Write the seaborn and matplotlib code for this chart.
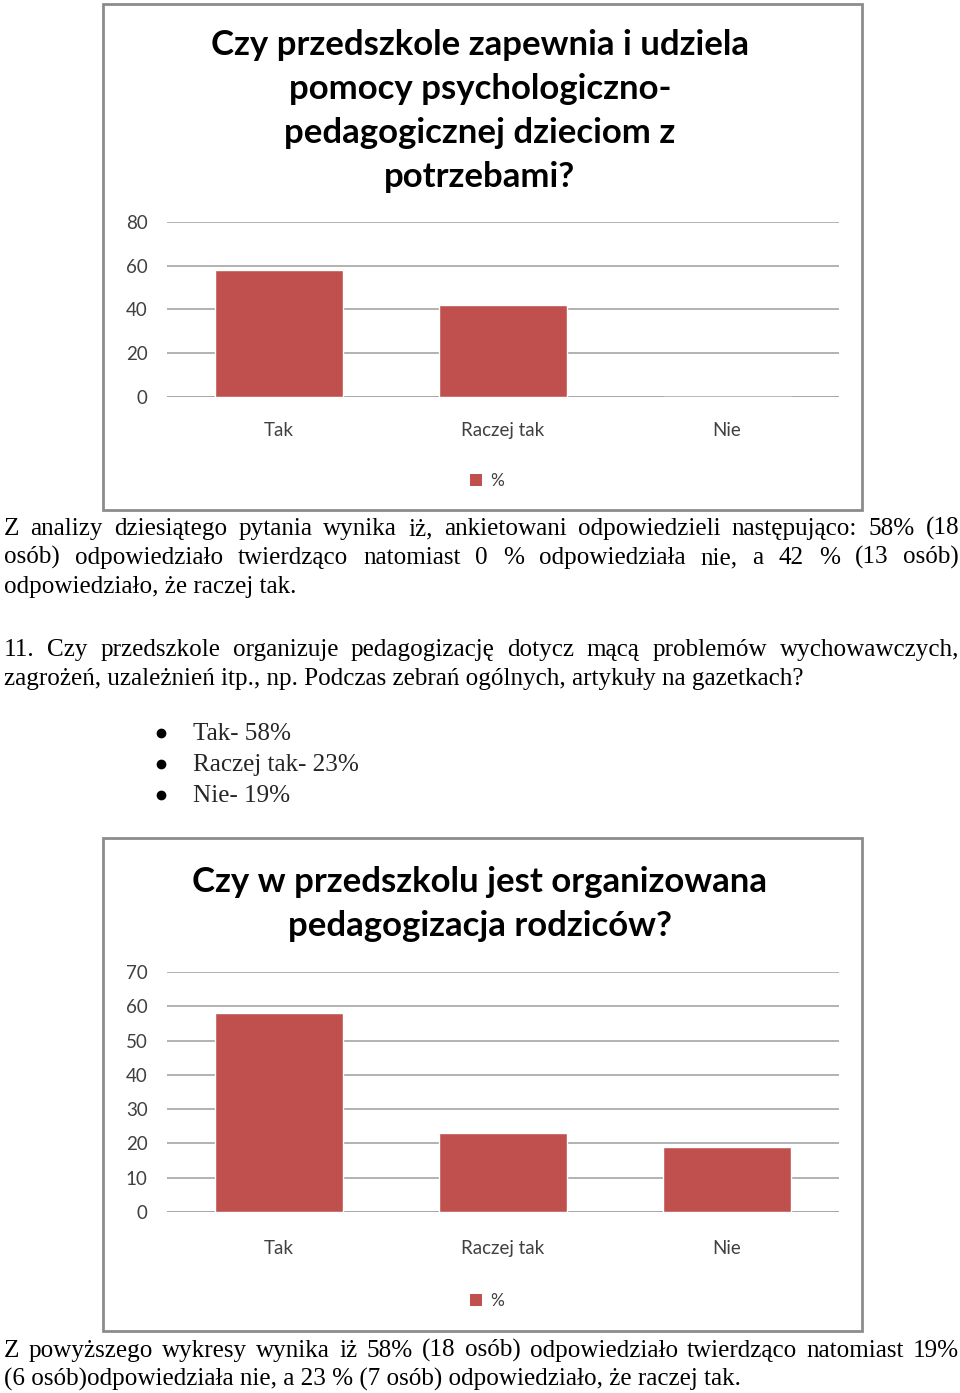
import numpy as np
import pandas as pd
import matplotlib
matplotlib.use('Agg')
import matplotlib.pyplot as plt
import seaborn as sns
from matplotlib.patches import Patch, Rectangle
from matplotlib.lines import Line2D

# ========== DATA ==========
CATEGORIES = ['Tak', 'Raczej tak', 'Nie']
VALUES_Q10 = [58, 42, 0]
VALUES_Q11 = [58, 23, 19]
TITLE_Q10 = 'Czy przedszkole zapewnia i udziela\npomocy psychologiczno-\npedagogicznej dzieciom z\npotrzebami?'
TITLE_Q11 = 'Czy w przedszkolu jest organizowana\npedagogizacja rodziców?'
YTICKS_Q10 = [0, 20, 40, 60, 80]
YTICKS_Q11 = [0, 10, 20, 30, 40, 50, 60, 70]
SERIES_NAME = '%'

PARA_1 = ['Z analizy dziesiątego pytania wynika iż, ankietowani odpowiedzieli następująco: 58% (18',
          'osób) odpowiedziało twierdząco natomiast 0 % odpowiedziała nie, a 42 % (13 osób)',
          'odpowiedziało, że raczej tak.']
PARA_2 = ['11. Czy przedszkole organizuje pedagogizację dotycz mącą problemów wychowawczych,',
          'zagrożeń, uzależnień itp., np. Podczas zebrań ogólnych, artykuły na gazetkach?']
BULLETS = ['Tak- 58%', 'Raczej tak- 23%', 'Nie- 19%']
PARA_3 = ['Z powyższego wykresy wynika iż 58% (18 osób) odpowiedziało twierdząco natomiast 19%',
          '(6 osób)odpowiedziała nie, a 23 % (7 osób) odpowiedziało, że raczej tak.']

# ========== STYLE ==========
W, H = 960, 1393
BAR_COLOR = '#C0504D'
GRID_COLOR = '#A6A6A6'
BOX_COLOR = '#8C8C8C'
CHART_FONT = ['Lato', 'DejaVu Sans']
TEXT_FONT = ['Liberation Serif', 'DejaVu Serif']
TEXT_SIZE = 18.1

sns.set_theme(style='white')
plt.rcParams['font.family'] = CHART_FONT

fig = plt.figure(figsize=(W / 100, H / 100), dpi=100)
fig.patch.set_facecolor('white')
renderer = fig.canvas.get_renderer()


def px_rect(x0, y0, x1, y1):
    return [x0 / W, 1 - y1 / H, (x1 - x0) / W, (y1 - y0) / H]


def fx(x):
    return x / W


def fy(y):
    return 1 - y / H


def chart_box(x0, y0, x1, y1):
    fig.patches.append(Rectangle((fx(x0), fy(y1)), (x1 - x0) / W, (y1 - y0) / H,
                                 transform=fig.transFigure, fill=False,
                                 edgecolor=BOX_COLOR, linewidth=2, zorder=0))


def draw_chart(values, title, yticks, box, axes_px, title_y, xpad, legend_y):
    chart_box(*box)
    ax = fig.add_axes(px_rect(*axes_px))
    df = pd.DataFrame({'kategoria': CATEGORIES, 'wartosc': values})
    sns.barplot(data=df, x='kategoria', y='wartosc', color=BAR_COLOR,
                saturation=1, width=0.57, ax=ax, zorder=3)
    ax.set_ylim(yticks[0], yticks[-1])
    ax.set_xlim(-0.5, len(CATEGORIES) - 0.5)
    ax.set_yticks(yticks)
    ax.yaxis.grid(True, color=GRID_COLOR, linewidth=1.2, zorder=0)
    ax.set_axisbelow(True)
    sns.despine(ax=ax, left=True, bottom=True, top=True, right=True)
    ax.set_xlabel('')
    ax.set_ylabel('')
    ax.tick_params(axis='y', length=0, pad=14, labelsize=13.5, labelcolor='#404040')
    ax.tick_params(axis='x', length=0, pad=xpad, labelsize=13.5, labelcolor='#404040')
    ax.set_facecolor('none')
    ax.axhline(yticks[0], color=GRID_COLOR, linewidth=1.2, zorder=2)
    fig.text(0.5, fy(title_y), title, ha='center', va='top', fontsize=25,
             fontweight='bold', color='black', linespacing=1.46)
    fig.legend(handles=[Patch(facecolor=BAR_COLOR, edgecolor='none', label=SERIES_NAME)],
               loc='center', bbox_to_anchor=(fx(487), fy(legend_y)), frameon=False,
               fontsize=12.5, handlelength=0.7, handleheight=0.7, handletextpad=0.5,
               labelcolor='#404040')
    return ax


def text_line(s, x0, x1, y, justify):
    # justified line: spread words across the full width
    words = s.split(' ')
    kw = dict(fontsize=TEXT_SIZE, family=TEXT_FONT, va='baseline', ha='left', color='black')
    if not justify or len(words) == 1:
        fig.text(fx(x0), fy(y), s, **kw)
        return
    objs = [fig.text(0, fy(y), w, **kw) for w in words]
    widths = [o.get_window_extent(renderer).width for o in objs]
    gap = (x1 - x0 - sum(widths)) / (len(words) - 1)
    x = x0
    for o, w in zip(objs, widths):
        o.set_x(fx(x))
        x += w + gap


def paragraph(lines, x0, x1, y0, step):
    for i, s in enumerate(lines):
        text_line(s, x0, x1, y0 + i * step, justify=(i < len(lines) - 1))


# ========== CHART 1 ==========
draw_chart(VALUES_Q10, TITLE_Q10, YTICKS_Q10, box=(103, 4, 862, 510),
           axes_px=(167, 222, 839, 397), title_y=29, xpad=18, legend_y=481)

# ========== TEXT ==========
paragraph(PARA_1, 4, 959, 535, 29)
paragraph(PARA_2, 4, 959, 656, 29)
for i, b in enumerate(BULLETS):
    fig.add_artist(Line2D([fx(161)], [fy(733 + i * 31)], transform=fig.transFigure,
                          marker='o', markersize=6, color='black', linestyle='none'))
    fig.text(fx(193), fy(740 + i * 31), b, fontsize=TEXT_SIZE, family=TEXT_FONT,
             va='baseline', ha='left')

# ========== CHART 2 ==========
draw_chart(VALUES_Q11, TITLE_Q11, YTICKS_Q11, box=(103, 838, 862, 1331),
           axes_px=(167, 972, 839, 1212), title_y=866, xpad=20, legend_y=1301)

paragraph(PARA_3, 4, 959, 1357, 29)

fig.savefig('out.png', dpi=100, facecolor='white')
